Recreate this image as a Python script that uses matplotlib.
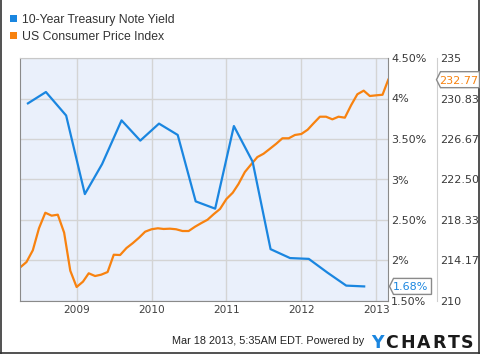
import matplotlib
matplotlib.use('Agg')
import matplotlib.pyplot as plt
import pandas as pd
from matplotlib.patches import Polygon
from matplotlib.lines import Line2D
from matplotlib.transforms import IdentityTransform

# ---------------- data ----------------
treasury_dates = [2008.35, 2008.59, 2008.86, 2009.11, 2009.34, 2009.60, 2009.85,
                  2010.10, 2010.35, 2010.59, 2010.85, 2011.10, 2011.35, 2011.59,
                  2011.85, 2012.10, 2012.35, 2012.60, 2012.84]
treasury_yield = [3.94, 4.08, 3.79, 2.82, 3.19, 3.73, 3.48,
                  3.69, 3.55, 2.73, 2.64, 3.66, 3.22, 2.14,
                  2.03, 2.02, 1.85, 1.69, 1.68]

cpi_dates = pd.date_range('2008-03-31', periods=60, freq='ME')
cpi_values = [213.47, 214.01, 215.22, 217.48, 219.08, 218.78, 218.88, 217.03, 213.12, 211.44,
              211.99, 212.85, 212.57, 212.71, 212.98, 214.76, 214.73, 215.45, 215.94, 216.51,
              217.13, 217.38, 217.48, 217.41, 217.44, 217.38, 217.20, 217.20, 217.64, 218.02,
              218.36, 218.95, 219.47, 220.49, 221.14, 222.04, 223.27, 224.04, 224.81, 225.15,
              225.66, 226.18, 226.74, 226.74, 227.08, 227.18, 227.62, 228.28, 228.96, 228.96,
              228.69, 228.96, 228.86, 230.16, 231.27, 231.64, 231.09, 231.16, 231.22, 232.77]

year_ticks = [2009, 2010, 2011, 2012, 2013]
year_labels = ['2009', '2010', '2011', '2012', '2013']
pct_ticks = [1.5, 2.0, 2.5, 3.0, 3.5, 4.0, 4.5]
pct_labels = ['1.50%', '2%', '2.50%', '3%', '3.50%', '4%', '4.50%']
cpi_ticks = [210, 214.17, 218.33, 222.50, 226.67, 230.83, 235]
cpi_labels = ['210', '214.17', '218.33', '222.50', '226.67', '230.83', '235']

series_names = ['10-Year Treasury Note Yield', 'US Consumer Price Index']
last_yield_label = '1.68%'
last_cpi_label = '232.77'
footer_text = 'Mar 18 2013, 5:35AM EDT. Powered by'

# ---------------- style ----------------
BLUE = '#1a86e0'
ORANGE = '#f8820f'
TXT = '#3a3a3a'
W, H = 480, 354

cpi_x = [d.year + d.dayofyear / (366 if d.is_leap_year else 365) for d in cpi_dates]

fig = plt.figure(figsize=(W / 100, H / 100), dpi=100)
fig.patch.set_facecolor('white')

L, R, T, B = 20, 388, 58, 301
axc = fig.add_axes([L / W, (H - B) / H, (R - L) / W, (B - T) / H])
axt = axc.twinx()

axc.set_facecolor('#eaf0fb')
axc.set_xlim(2008.244, 2013.158)
axc.set_ylim(210, 235)
axt.set_ylim(1.5, 4.5)

# grid
axc.set_xticks(year_ticks)
axc.set_xticklabels(year_labels)
axc.set_yticks(cpi_ticks)
axc.set_yticklabels(cpi_labels)
axc.grid(True, color='#d4d4d4', linewidth=1.0)
axc.set_axisbelow(True)

axc.plot(cpi_x, cpi_values, color=ORANGE, linewidth=1.6, solid_joinstyle='round')
axt.plot(treasury_dates, treasury_yield, color=BLUE, linewidth=1.6, solid_joinstyle='round')

# spines
for sp in ['left', 'bottom']:
    axc.spines[sp].set_color('#8a8a8a')
axc.spines['top'].set_color('#c8c8c8')
axc.spines['right'].set_position(('outward', 49 * 0.72))
axc.spines['right'].set_color('#cfcfcf')
for sp in ['left', 'top', 'bottom']:
    axt.spines[sp].set_visible(False)
axt.spines['right'].set_color('#8a8a8a')

axc.yaxis.tick_right()
axc.tick_params(axis='y', length=0, pad=1.9, labelsize=8, labelcolor=TXT)
axc.tick_params(axis='x', length=0, pad=3.0, labelsize=7.6, labelcolor='#404040')
axt.set_yticks(pct_ticks)
axt.set_yticklabels(pct_labels)
axt.tick_params(axis='y', length=0, pad=2.2, labelsize=8, labelcolor=TXT)


def callout(ax, value, x0, x1, text, color):
    yd = ax.transData.transform((ax.get_xlim()[0], value))[1]
    h = 8
    pts = [(x0, yd), (x0 + 4, yd + h), (x1, yd + h), (x1, yd - h), (x0 + 4, yd - h)]
    fig.add_artist(Polygon(pts, closed=True, facecolor='white', edgecolor='#8a8a8a',
                           linewidth=1.0, transform=IdentityTransform(), zorder=5))
    fig.text((x0 + 3) / W, yd / H, text, color=color, fontsize=8,
             ha='left', va='center_baseline', zorder=6)


callout(axt, treasury_yield[-1], 389.5, 431.5, last_yield_label, BLUE)
callout(axc, cpi_values[-1], 436.5, 479.5, last_cpi_label, ORANGE)

# legend
for i, (name, col) in enumerate(zip(series_names, [BLUE, ORANGE])):
    yc = 18.5 + 17 * i
    fig.add_artist(Polygon([(10, H - yc - 3.5), (17, H - yc - 3.5), (17, H - yc + 3.5), (10, H - yc + 3.5)],
                           closed=True, facecolor=col, edgecolor='none', transform=IdentityTransform()))
    fig.text(22 / W, (H - yc) / H, name, fontsize=8.8, family='Liberation Sans',
             color='#333333', ha='left', va='center_baseline')

# footer
fig.text(364 / W, (H - 340.5) / H, footer_text, fontsize=7.8, family='Liberation Sans',
         color='#222222', ha='right', va='center_baseline')
logo = 'YCHARTS'
xs = [371.5, 385, 400.5, 417, 432.5, 447.5, 460.5]
for ch, x in zip(logo, xs):
    fig.text(x / W, (H - 340.5) / H, ch, fontsize=12.5, fontweight='bold', family='DejaVu Sans',
             color=BLUE if ch == 'Y' else '#1a1a1a', ha='left', va='center_baseline')

# border
bc = '#333333'
fig.add_artist(Line2D([0.75, 0.75], [0, H], color=bc, linewidth=1.2, transform=IdentityTransform()))
fig.add_artist(Line2D([479.25, 479.25], [0, H], color=bc, linewidth=1.2, transform=IdentityTransform()))
fig.add_artist(Line2D([0, W], [1.5, 1.5], color=bc, linewidth=1.2, transform=IdentityTransform()))

fig.savefig('out.png', dpi=100)
